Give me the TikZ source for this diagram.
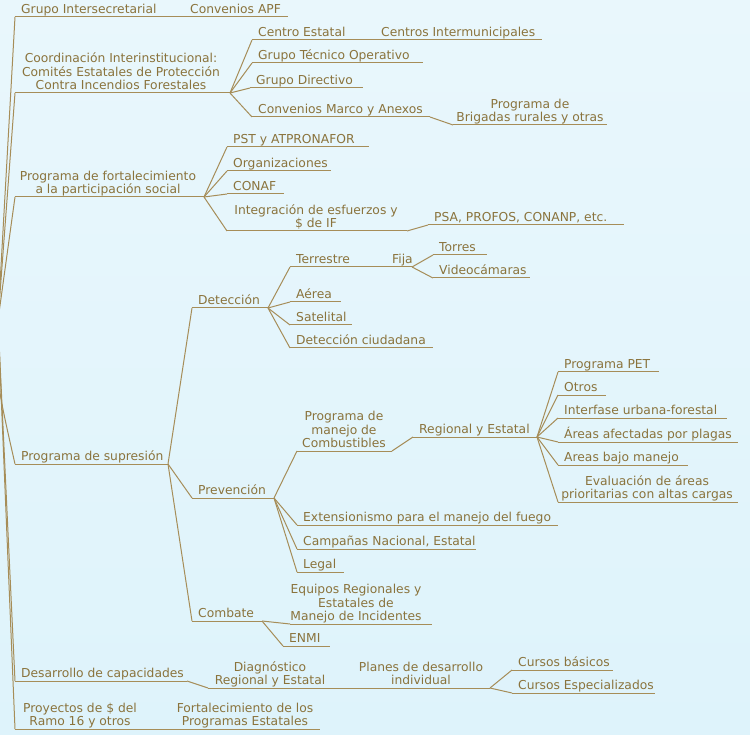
\documentclass[tikz,border=0pt]{standalone}
\usepackage{fontspec}
\setmainfont{DejaVu Sans}
\definecolor{txtc}{HTML}{8A733C}
\definecolor{linec}{HTML}{A68D58}
\definecolor{bgtop}{HTML}{E9F7FC}
\definecolor{bgbot}{HTML}{DEF3FB}
\tikzset{
  lbl/.style={font=\fontsize{12.3}{13.5}\selectfont, text=txtc, inner sep=0pt, align=center,
    execute at end node={\rule[-3pt]{0pt}{1pt}}},
  ul/.style={draw=linec, line width=1pt},
  ln/.style={draw=linec, line width=1pt},
}
\newcommand\topicL[5]{%
  \coordinate (#1-l) at (#2,#4); \coordinate (#1-r) at (#3,#4);
  \node[lbl, anchor=south west] (#1) at (#2+6,#4) {#5};
  \draw[ul] (#1-l) -- (#1-r);}
\newcommand\topicC[6]{%
  \coordinate (#1-l) at (#2,#4); \coordinate (#1-r) at (#3,#4);
  \node[lbl, anchor=south] (#1) at (#5,#4) {#6};
  \draw[ul] (#1-l) -- (#1-r);}
\begin{document}
\begin{tikzpicture}[x=1pt,y=-1pt]
\shade[top color=bgtop, bottom color=bgbot] (0,0) rectangle (750,735);
\useasboundingbox (0,0) rectangle (750,735);
\coordinate (root) at (-2,320);

% main branches
\topicL{grp}{15}{162}{17}{Grupo Intersecretarial}
\topicL{apf}{184}{288}{17}{Convenios APF}
\topicC{coord}{15}{230}{93}{121}{Coordinación Interinstitucional:\\Comités Estatales de Protección\\Contra Incendios Forestales}
\topicC{fort}{15}{204}{197}{108}{Programa de fortalecimiento\\a la participación social}
\topicL{sup}{15}{168}{464}{Programa de supresión}
\topicL{des}{15}{187}{681}{Desarrollo de capacidades}
\topicC{proy}{15}{150}{729}{80}{Proyectos de \$ del\\Ramo 16 y otros}

\draw[ln] (root) -- (grp-l);
\draw[ln] (root) -- (coord-l);
\draw[ln] (root) -- (fort-l);
\draw[ln] (root) .. controls (-4,380) .. (sup-l);
\draw[ln] (root) -- (des-l);
\draw[ln] (root) -- (proy-l);
\draw[ln] (grp-r) -- (apf-l);

% Coordinacion children
\topicL{ce}{252}{352}{40}{Centro Estatal}
\topicL{cim}{375}{542}{40}{Centros Intermunicipales}
\topicL{gto}{252}{423}{63}{Grupo Técnico Operativo}
\topicL{gd}{250}{363}{88}{Grupo Directivo}
\topicL{cma}{252}{430}{117}{Convenios Marco y Anexos}
\topicC{bri}{453}{607}{125}{530}{Programa de\\Brigadas rurales y otras}
\draw[ln] (coord-r) -- (ce-l);
\draw[ln] (ce-r) -- (cim-l);
\draw[ln] (coord-r) -- (gto-l);
\draw[ln] (coord-r) -- (gd-l);
\draw[ln] (coord-r) -- (cma-l);
\draw[ln] (cma-r) -- (bri-l);

% Fortalecimiento children
\topicL{pst}{227}{369}{147}{PST y ATPRONAFOR}
\topicL{org}{227}{331}{171}{Organizaciones}
\topicL{conaf}{227}{284}{194}{CONAF}
\topicC{ies}{227}{407}{231}{316}{Integración de esfuerzos y\\\$ de IF}
\topicL{psa}{428}{624}{225}{PSA, PROFOS, CONANP, etc.}
\draw[ln] (fort-r) -- (pst-l);
\draw[ln] (fort-r) -- (org-l);
\draw[ln] (fort-r) -- (conaf-l);
\draw[ln] (fort-r) -- (ies-l);
\draw[ln] (ies-r) -- (psa-l);

% Supresion children
\topicL{det}{192}{268}{308}{Detección}
\topicL{prev}{192}{274}{498}{Prevención}
\topicL{com}{192}{262}{621}{Combate}
\draw[ln] (sup-r) -- (det-l);
\draw[ln] (sup-r) -- (prev-l);
\draw[ln] (sup-r) -- (com-l);

% Deteccion
\topicL{ter}{290}{363}{267}{Terrestre}
\topicL{fija}{386}{412}{267}{Fija}
\topicL{tor}{433}{487}{255}{Torres}
\topicL{vid}{433}{530}{278}{Videocámaras}
\topicL{aer}{290}{341}{302}{Aérea}
\topicL{sat}{290}{352}{325}{Satelital}
\topicL{dci}{290}{433}{348}{Detección ciudadana}
\draw[ln] (det-r) -- (ter-l);
\draw[ln] (ter-r) -- (fija-l);
\draw[ln] (fija-r) -- (tor-l);
\draw[ln] (fija-r) -- (vid-l);
\draw[ln] (det-r) -- (aer-l);
\draw[ln] (det-r) -- (sat-l);
\draw[ln] (det-r) -- (dci-l);

% Prevencion
\topicC{pmc}{297}{392}{451}{344}{Programa de\\manejo de\\Combustibles}
\topicL{rye}{413}{537}{437}{Regional y Estatal}
\topicL{pet}{558}{659}{372}{Programa PET}
\topicL{otr}{558}{606}{395}{Otros}
\topicL{iuf}{558}{727}{418}{Interfase urbana-forestal}
\topicL{aap}{558}{738}{442}{Áreas afectadas por plagas}
\topicL{abm}{558}{688}{465}{Areas bajo manejo}
\topicC{eva}{558}{738}{502}{647}{Evaluación de áreas\\prioritarias con altas cargas}
\topicL{ext}{297}{558}{525}{Extensionismo para el manejo del fuego}
\topicL{cam}{297}{476}{549}{Campañas Nacional, Estatal}
\topicL{leg}{297}{344}{572}{Legal}
\draw[ln] (prev-r) -- (pmc-l);
\draw[ln] (pmc-r) -- (rye-l);
\draw[ln] (rye-r) -- (pet-l);
\draw[ln] (rye-r) -- (otr-l);
\draw[ln] (rye-r) -- (iuf-l);
\draw[ln] (rye-r) -- (aap-l);
\draw[ln] (rye-r) -- (abm-l);
\draw[ln] (rye-r) -- (eva-l);
\draw[ln] (prev-r) -- (ext-l);
\draw[ln] (prev-r) -- (cam-l);
\draw[ln] (prev-r) -- (leg-l);

% Combate
\topicC{equ}{290}{432}{624}{356}{Equipos Regionales y\\Estatales de\\Manejo de Incidentes}
\topicL{enmi}{283}{330}{646}{ENMI}
\draw[ln] (com-r) -- (equ-l);
\draw[ln] (com-r) -- (enmi-l);

% Desarrollo
\topicC{dia}{208}{325}{688}{270}{Diagnóstico\\Regional y Estatal}
\topicC{pla}{352}{490}{688}{421}{Planes de desarrollo\\individual}
\topicL{cb}{512}{613}{670}{Cursos básicos}
\topicL{cesp}{512}{655}{693}{Cursos Especializados}
\draw[ln] (des-r) -- (dia-l);
\draw[ln] (dia-r) -- (pla-l);
\draw[ln] (pla-r) -- (cb-l);
\draw[ln] (pla-r) -- (cesp-l);

% Proyectos
\topicC{fpe}{170}{320}{729}{245}{Fortalecimiento de los\\Programas Estatales}
\draw[ln] (proy-r) -- (fpe-l);
\end{tikzpicture}
\end{document}
